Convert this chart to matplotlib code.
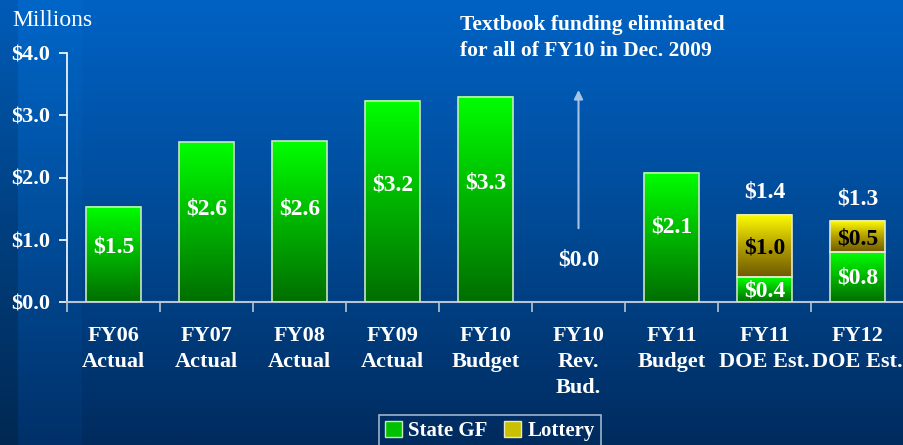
import numpy as np
import matplotlib
matplotlib.use("Agg")
import matplotlib.pyplot as plt
from matplotlib.patches import Patch
from matplotlib.colors import LinearSegmentedColormap

categories = ["FY06\nActual", "FY07\nActual", "FY08\nActual", "FY09\nActual",
              "FY10\nBudget", "FY10\nRev.\nBud.", "FY11\nBudget",
              "FY11\nDOE Est.", "FY12\nDOE Est."]
state_gf = [1.53, 2.57, 2.58, 3.23, 3.30, 0.0, 2.08, 0.40, 0.80]
lottery = [0.0, 0.0, 0.0, 0.0, 0.0, 0.0, 0.0, 1.00, 0.50]
gf_labels = ["$1.5", "$2.6", "$2.6", "$3.2", "$3.3", "$0.0", "$2.1", "$0.4", "$0.8"]
lot_labels = ["", "", "", "", "", "", "", "$1.0", "$0.5"]
total_labels = ["", "", "", "", "", "", "", "$1.4", "$1.3"]
yticks = [0.0, 1.0, 2.0, 3.0, 4.0]
ytick_labels = ["$0.0", "$1.0", "$2.0", "$3.0", "$4.0"]

W, H = 904, 445
fig = plt.figure(figsize=(W / 100, H / 100), dpi=100)

# background gradient
bg = fig.add_axes([0, 0, 1, 1], zorder=-10)
bg.axis("off")
grad = np.linspace(0, 1, 256).reshape(-1, 1)
bgcmap = LinearSegmentedColormap.from_list("bg", ["#0062c4", "#004a96", "#002b5e"])
bg.imshow(grad, aspect="auto", cmap=bgcmap, extent=[0, 1, 0, 1], origin="upper")
bg.imshow(grad, aspect="auto", cmap=LinearSegmentedColormap.from_list("l", ["#005cb8", "#004080", "#002852"]),
          extent=[0, 18 / W, 0, 1], origin="upper")
bg.imshow(grad, aspect="auto", cmap=LinearSegmentedColormap.from_list("b", ["#0066c8", "#004e9c", "#003068"]),
          extent=[18 / W, 82 / W, 0, 1], origin="upper")
bg.set_xlim(0, 1)
bg.set_ylim(0, 1)

ax = fig.add_axes([67 / W, 1 - 302 / H, 1 - 67 / W, (302 - 53) / H])
ax.patch.set_alpha(0)
x = np.arange(len(categories))

green_cmap = LinearSegmentedColormap.from_list("g", ["#006e00", "#00b400", "#00ff00"])
yellow_cmap = LinearSegmentedColormap.from_list("y", ["#6e5a00", "#b4a000", "#ffff00"])
vgrad = np.linspace(0, 1, 256).reshape(-1, 1)

bw = 0.59
bars_gf = ax.bar(x, state_gf, width=bw, color="none", edgecolor="#c8e8c0", linewidth=1.2, zorder=3)
bars_lot = ax.bar(x, lottery, width=bw, bottom=state_gf, color="none", edgecolor="#e8e8c8",
                  linewidth=1.2, zorder=3)
for bars, cmap in ((bars_gf, green_cmap), (bars_lot, yellow_cmap)):
    for b in bars:
        if b.get_height() <= 0:
            b.set_visible(False)
            continue
        x0, y0, w, h = b.get_x(), b.get_y(), b.get_width(), b.get_height()
        ax.imshow(vgrad, aspect="auto", cmap=cmap, origin="lower",
                  extent=[x0, x0 + w, y0, y0 + h], zorder=2)
ax.set_xlim(-0.5, len(categories) - 0.5)
ax.set_ylim(0, 4.0)

font = "Liberation Serif"
fs = 17
for i, (v, lab) in enumerate(zip(state_gf, gf_labels)):
    if lottery[i] > 0:
        y = v / 2 - 0.02
    elif v > 0:
        y = v * 0.58
    else:
        y = 0.67
    ax.text(i, y, lab, ha="center", va="center", color="white", fontsize=fs,
            fontweight="bold", family=font, zorder=5)
for i, lab in enumerate(lot_labels):
    if lab:
        ax.text(i, state_gf[i] + lottery[i] / 2 - 0.04, lab, ha="center", va="center", color="black",
                fontsize=fs, fontweight="bold", family=font, zorder=5)
for i, lab in enumerate(total_labels):
    if lab:
        ax.text(i, state_gf[i] + lottery[i] + 0.36, lab, ha="center", va="center", color="white",
                fontsize=fs, fontweight="bold", family=font, zorder=5)

# arrow and note
ax.annotate("", xy=(5, 3.45), xytext=(5, 1.14),
            arrowprops=dict(arrowstyle="-|>", color="#a8c4e4", lw=1.5, mutation_scale=13))
fig.text(460 / W, 1 - 38 / H, "Textbook funding eliminated\nfor all of FY10 in Dec. 2009",
         ha="left", va="center", color="white", fontsize=15.5, fontweight="bold", family=font,
         linespacing=1.35)
fig.text(12 / W, 1 - 20 / H, "Millions", ha="left", va="center", color="white", fontsize=17,
         family=font)

# axes styling
for s in ("top", "right"):
    ax.spines[s].set_visible(False)
ax.spines["left"].set_color("white")
ax.spines["left"].set_linewidth(1.2)
ax.spines["bottom"].set_color("#b8c4d4")
ax.spines["bottom"].set_linewidth(1.5)
ax.set_yticks(yticks)
ax.set_yticklabels(ytick_labels, family=font, fontweight="bold", fontsize=16, color="white")
ax.tick_params(axis="y", length=6, width=1.2, color="white", pad=6)
ax.set_xticks(x)
ax.set_xticklabels(categories, family=font, fontweight="bold", fontsize=16, color="white",
                   linespacing=1.42)
ax.tick_params(axis="x", length=0, pad=17)
ax.set_xticks(np.arange(len(categories) + 1) - 0.5, minor=True)
ax.tick_params(axis="x", which="minor", length=7, width=1.2, color="#b8c4d4")

handles = [Patch(facecolor="#00c000", edgecolor="#c8e8c0", label="State GF"),
           Patch(facecolor="#c8c000", edgecolor="#e8e8c8", label="Lottery")]
leg = fig.legend(handles=handles, loc="upper center", bbox_to_anchor=(490 / W, 1 - 415 / H),
                 ncol=2, frameon=True, fancybox=False, handlelength=0.8, handleheight=0.8,
                 handletextpad=0.3, columnspacing=0.8, borderpad=0.3, borderaxespad=0,
                 prop=dict(family=font, weight="bold", size=15))
leg.get_frame().set_facecolor("none")
leg.get_frame().set_edgecolor("#c8d4e4")
leg.get_frame().set_linewidth(1.2)
for t in leg.get_texts():
    t.set_color("white")

fig.savefig("out.png", dpi=100)
